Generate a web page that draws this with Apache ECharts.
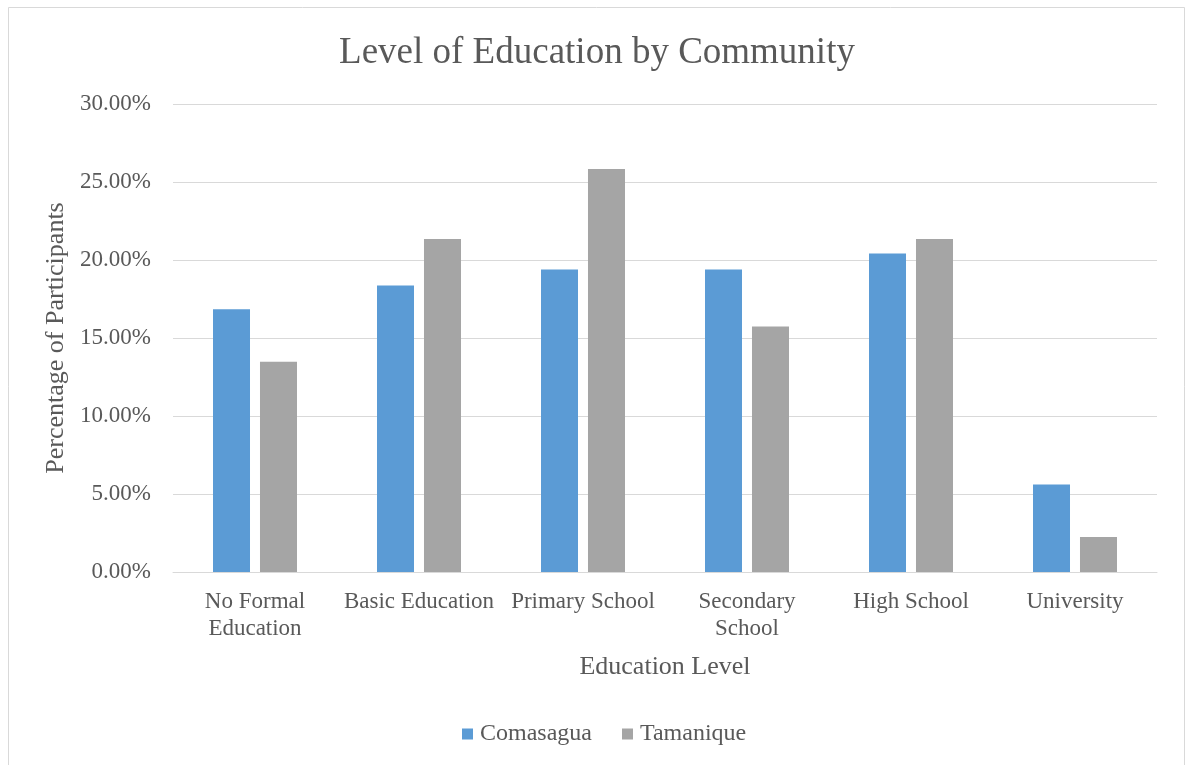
<!DOCTYPE html>
<html>
<head>
<meta charset="utf-8">
<script src="https://cdn.jsdelivr.net/npm/echarts@6/dist/echarts.min.js"></script>
<style>
html,body{margin:0;padding:0;background:#fff;}
#chart{width:1186px;height:765px;}
</style>
</head>
<body>
<div id="chart"></div>
<script>
const categories = ['No Formal\nEducation', 'Basic Education', 'Primary School', 'Secondary\nSchool', 'High School', 'University'];
const comasagua = [16.84, 18.37, 19.39, 19.39, 20.41, 5.61];
const tamanique = [13.48, 21.35, 25.84, 15.73, 21.35, 2.25];
const seriesNames = ['Comasagua', 'Tamanique'];
const yTicks = { min: 0, max: 30, interval: 5 };

const FONT = "'Liberation Serif', 'Times New Roman', serif";
const TXT = '#595959';

const chart = echarts.init(document.getElementById('chart'));
chart.setOption({
  backgroundColor: '#ffffff',
  animation: false,
  graphic: [{
    type: 'rect',
    shape: { x: 8.5, y: 7.5, width: 1176, height: 800 },
    style: { fill: 'none', stroke: '#d9d9d9', lineWidth: 1 },
    silent: true
  }],
  title: {
    text: 'Level of Education by Community',
    left: 592,
    textAlign: 'center',
    top: 30,
    textStyle: { fontFamily: FONT, fontSize: 37, fontWeight: 'normal', color: TXT }
  },
  legend: {
    data: seriesNames,
    bottom: 14,
    left: 457,
    icon: 'rect',
    itemWidth: 11,
    itemHeight: 11,
    itemGap: 30,
    textStyle: { fontFamily: FONT, fontSize: 24, color: TXT, padding: [0, 0, 0, 2] }
  },
  grid: { left: 173, right: 29, top: 104, bottom: 193, containLabel: false },
  xAxis: {
    type: 'category',
    data: categories,
    name: 'Education Level',
    nameLocation: 'middle',
    nameGap: 82,
    nameTextStyle: { fontFamily: FONT, fontSize: 26, color: TXT },
    axisLine: { lineStyle: { color: '#d9d9d9', width: 1 } },
    axisTick: { show: false },
    axisLabel: {
      interval: 0,
      margin: 16,
      fontFamily: FONT, fontSize: 23, color: TXT, lineHeight: 27
    }
  },
  yAxis: {
    type: 'value',
    min: yTicks.min,
    max: yTicks.max,
    interval: yTicks.interval,
    name: 'Percentage of Participants',
    nameLocation: 'middle',
    nameGap: 97,
    nameTextStyle: { fontFamily: FONT, fontSize: 26, color: TXT },
    axisLine: { show: false },
    axisTick: { show: false },
    splitLine: { lineStyle: { color: '#d9d9d9', width: 1 } },
    axisLabel: {
      margin: 22,
      fontFamily: FONT, fontSize: 23, color: TXT,
      formatter: v => v.toFixed(2) + '%'
    }
  },
  series: [
    {
      name: seriesNames[0],
      type: 'bar',
      data: comasagua,
      barWidth: 37,
      barGap: '27%',
      itemStyle: { color: '#5B9BD5' }
    },
    {
      name: seriesNames[1],
      type: 'bar',
      data: tamanique,
      barWidth: 37,
      barGap: '27%',
      itemStyle: { color: '#A5A5A5' }
    }
  ]
});
</script>
</body>
</html>
